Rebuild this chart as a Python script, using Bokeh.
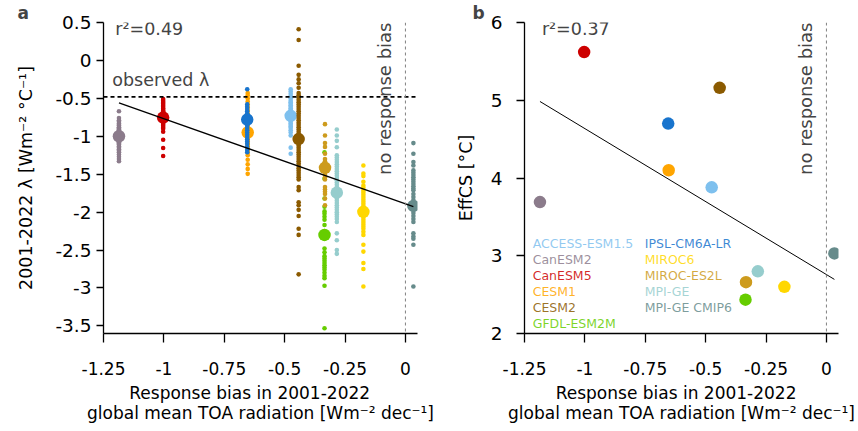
import numpy as np
from bokeh.plotting import figure
from bokeh.layouts import row
from bokeh.models import Span, Label, FixedTicker, CustomJSTickFormatter, Range1d, LinearAxis
from bokeh.embed import file_html
from bokeh.resources import INLINE

FONT = "DejaVu Sans"

# ---- model-level data ----
models = ["ACCESS-ESM1.5", "CanESM2", "CanESM5", "CESM1", "CESM2", "GFDL-ESM2M",
          "IPSL-CM6A-LR", "MIROC6", "MIROC-ES2L", "MPI-GE", "MPI-GE CMIP6"]
colors = ["#7EC0EE", "#8B7B8B", "#CD0000", "#FFA500", "#8B5A00", "#66CD00",
          "#1874CD", "#FFD700", "#CD9B1D", "#96CDCD", "#668B8B"]
bias = [-0.475, -1.186, -1.003, -0.653, -0.442, -0.335, -0.655, -0.174, -0.333, -0.284, 0.033]
lambda_mean = [-0.73, -1.00, -0.753, -0.95, -1.037, -2.30, -0.78, -1.996, -1.416, -1.743, -1.918]
effcs = [3.88, 3.69, 5.62, 4.10, 5.16, 2.435, 4.70, 2.60, 2.66, 2.80, 3.03]
observed_lambda = -0.48

# ---- ensemble members (lambda, W m-2 C-1) ----
m_access = [-0.38, -0.41, -0.44, -0.47, -0.50, -0.53, -0.55, -0.57, -0.59, -0.61, -0.63, -0.65,
            -0.67, -0.69, -0.71, -0.73, -0.75, -0.77, -0.79, -0.81, -0.83, -0.85, -0.87, -0.89,
            -0.92, -0.95, -0.99, -1.15, -1.23]
m_canesm2 = [-0.67, -0.76, -0.79, -0.81, -0.83, -0.85, -0.86, -0.88, -0.89, -0.90, -0.91, -0.92,
             -0.93, -0.94, -0.95, -0.96, -0.97, -0.98, -0.99, -1.00, -1.01, -1.02, -1.03, -1.04,
             -1.05, -1.06, -1.07, -1.08, -1.09, -1.10, -1.11, -1.13, -1.15, -1.17, -1.19, -1.21,
             -1.24, -1.27, -1.30, -1.33]
m_canesm5 = [-0.51, -0.53, -0.55, -0.57, -0.59, -0.61, -0.63, -0.64, -0.66, -0.67, -0.68, -0.70,
             -0.71, -0.72, -0.73, -0.74, -0.75, -0.76, -0.77, -0.78, -0.79, -0.80, -0.81, -0.82,
             -0.84, -0.86, -0.88, -0.90, -0.94, -1.045, -1.155, -1.26]
m_cesm1 = [-0.43, -0.46, -0.50, -0.54, -0.58, -0.62, -0.66, -0.70, -0.73, -0.76, -0.79, -0.82,
           -0.85, -0.88, -0.91, -0.93, -0.95, -0.97, -0.99, -1.01, -1.03, -1.05, -1.07, -1.09,
           -1.11, -1.13, -1.16, -1.19, -1.22, -1.25, -1.31, -1.37, -1.43, -1.495]
m_cesm2 = [0.41, 0.27, -0.07, -0.19, -0.25, -0.30, -0.36, -0.43, -0.46, -0.49, -0.52, -0.55,
           -0.58, -0.61, -0.64, -0.67, -0.70, -0.73, -0.76, -0.79, -0.82, -0.85, -0.88, -0.91,
           -0.94, -0.97, -1.00, -1.03, -1.06, -1.09, -1.12, -1.15, -1.18, -1.21, -1.24, -1.27,
           -1.30, -1.33, -1.36, -1.39, -1.42, -1.45, -1.48, -1.51, -1.54, -1.57, -1.67, -1.71,
           -1.87, -1.91, -1.97, -2.05, -2.22, -2.30, -2.82]
m_gfdl = [-1.21, -1.36, -1.56, -1.82, -1.93, -1.99, -2.02, -2.06, -2.10, -2.17, -2.25, -2.35,
          -2.48, -2.53, -2.58, -2.61, -2.64, -2.67, -2.70, -2.73, -2.76, -2.80, -2.84, -2.87,
          -2.97, -3.53]
m_ipsl = [-0.38, -0.58, -0.61, -0.64, -0.67, -0.70, -0.72, -0.74, -0.76, -0.78, -0.80, -0.82,
          -0.84, -0.86, -0.89, -0.92, -0.95, -0.98, -1.01, -1.04, -1.07, -1.10, -1.14, -1.18, -1.21]
m_miroc6 = [-1.385, -1.49, -1.525, -1.60, -1.65, -1.68, -1.71, -1.74, -1.77, -1.80, -1.83, -1.86,
            -1.89, -1.92, -1.95, -1.98, -2.01, -2.04, -2.07, -2.10, -2.13, -2.16, -2.19, -2.22,
            -2.26, -2.30, -2.43, -2.52, -2.67, -2.75, -2.98]
m_mirocES2L = [-0.84, -0.99, -1.09, -1.14, -1.23, -1.30, -1.33, -1.36, -1.39, -1.42, -1.45, -1.48,
               -1.51, -1.54, -1.57, -1.67, -1.70, -1.73, -1.76, -1.82, -1.91]
m_mpige = [-0.91, -0.99, -1.06, -1.145, -1.25, -1.28, -1.31, -1.34, -1.37, -1.40, -1.43, -1.46,
           -1.49, -1.52, -1.55, -1.58, -1.61, -1.64, -1.67, -1.70, -1.73, -1.76, -1.79, -1.82,
           -1.85, -1.88, -1.91, -1.94, -1.97, -2.00, -2.03, -2.06, -2.09, -2.13, -2.28, -2.37,
           -2.50, -2.55]
m_mpige6 = [-1.09, -1.23, -1.34, -1.385, -1.45, -1.48, -1.51, -1.54, -1.57, -1.60, -1.63, -1.66,
            -1.69, -1.71, -1.76, -1.80, -1.84, -1.88, -1.93, -1.97, -2.01, -2.05, -2.09, -2.13,
            -2.28, -2.32, -2.35, -2.43, -2.98]
members = [m_access, m_canesm2, m_canesm5, m_cesm1, m_cesm2, m_gfdl,
           m_ipsl, m_miroc6, m_mirocES2L, m_mpige, m_mpige6]

x_ticks = [-1.25, -1.0, -0.75, -0.5, -0.25, 0.0]
ya_ticks = [0.5, 0.0, -0.5, -1.0, -1.5, -2.0, -2.5, -3.0, -3.5]
yb_ticks = [2, 3, 4, 5, 6]

xlab_line1 = "Response bias in 2001-2022"
xlab_line2 = "global mean TOA radiation [Wm\u207b\u00b2 dec\u207b\u00b9]"
ylab_a = "2001-2022 \u03bb [Wm\u207b\u00b2 \u00b0C\u207b\u00b9]"
ylab_b = "EffCS [\u00b0C]"
NB = "\u00a0"


def style(p, yticks, ytick_out, ystand, ylab, ylab_stand, panel, title_off, pad1):
    for ax in (p.xaxis[0], p.yaxis[0]):
        ax.axis_line_color = "black"
        ax.axis_line_width = 1.3
        ax.major_tick_line_color = "black"
        ax.major_tick_line_width = 1.3
        ax.major_tick_in = 0
        ax.minor_tick_line_color = None
        ax.major_label_text_font = FONT
        ax.major_label_text_color = "black"
        ax.axis_label_text_font = FONT
        ax.axis_label_text_font_style = "normal"
        ax.axis_label_text_color = "black"
        ax.formatter = CustomJSTickFormatter(code="return String(tick);")
    p.xaxis[0].axis_label_text_font_size = "17px"
    p.yaxis[0].axis_label_text_font_size = "17.5px"
    p.xaxis[0].major_label_text_font_size = "17px"
    p.yaxis[0].major_label_text_font_size = "18.5px"
    p.xaxis[0].ticker = FixedTicker(ticks=x_ticks)
    p.yaxis[0].ticker = FixedTicker(ticks=yticks)
    p.xaxis[0].major_tick_out = 9
    p.xaxis[0].major_label_standoff = 19
    # trailing no-break spaces shift the centred first line slightly left, as in the reference
    p.xaxis[0].axis_label = xlab_line1 + NB * pad1
    p.xaxis[0].axis_label_standoff = 5
    p.yaxis[0].major_tick_out = ytick_out
    p.yaxis[0].major_label_standoff = ystand
    p.yaxis[0].axis_label = ylab
    p.yaxis[0].axis_label_standoff = ylab_stand
    # second line of the x label: an extra, tick-less axis below the first
    ax2 = LinearAxis(ticker=FixedTicker(ticks=[]), axis_label=xlab_line2,
                     axis_line_color=None, major_tick_line_color=None,
                     minor_tick_line_color=None, major_tick_out=0, major_tick_in=0,
                     major_label_standoff=0, axis_label_standoff=-3,
                     axis_label_text_font=FONT, axis_label_text_font_size="17px",
                     axis_label_text_font_style="normal", axis_label_text_color="black")
    p.add_layout(ax2, "below")
    p.xgrid.visible = False
    p.ygrid.visible = False
    p.outline_line_color = None
    p.title.text = panel
    p.title.text_font = FONT
    p.title.text_font_size = "17px"
    p.title.text_font_style = "bold"
    p.title.align = "left"
    p.title.offset = title_off
    p.title.standoff = 0


def lab(p, text, x, y, size="17.5px", **kw):
    p.add_layout(Label(x=x, y=y, text=text, text_font=FONT, text_font_size=size, **kw))


# ================= panel a =================
pa = figure(width=440, height=430, x_range=Range1d(-1.25, 0.05), y_range=Range1d(-3.6, 0.5),
            output_backend="svg", toolbar_location=None,
            min_border_left=103, min_border_right=23, min_border_top=20, min_border_bottom=97)
style(pa, ya_ticks, 7, 5, ylab_a, 16, "a", -86, 4)

pa.add_layout(Span(location=observed_lambda, dimension="width", line_color="black",
                   line_width=1.6, line_dash="4 3"))
pa.add_layout(Span(location=0, dimension="height", line_color="#808080",
                   line_width=1, line_dash="3 3"))

for i in range(len(models)):
    mem = members[i]
    pa.scatter([bias[i]] * len(mem), mem, size=4.6, color=colors[i], line_color=None)
    pa.scatter([bias[i]], [lambda_mean[i]], size=12.5, color=colors[i], line_color=None)

ka, ba = np.polyfit(bias, lambda_mean, 1)
xl = np.array([min(bias), max(bias)])
pa.line(xl, ka * xl + ba, line_color="black", line_width=1.3)

lab(pa, "r\u00b2=0.49", -1.201, 0.28)
lab(pa, "observed \u03bb", -1.214, -0.386)
lab(pa, "no response bias", 0, 0.5, size="18px", angle=np.pi / 2, text_align="right",
    x_offset=-10)

# ================= panel b =================
pb = figure(width=418, height=430, x_range=Range1d(-1.25, 0.05), y_range=Range1d(2, 6),
            output_backend="svg", toolbar_location=None,
            min_border_left=84, min_border_right=20, min_border_top=20, min_border_bottom=97)
style(pb, yb_ticks, 8, 14, ylab_b, 12, "b", -52, 2)
pb.add_layout(Span(location=0, dimension="height", line_color="#808080",
                   line_width=1, line_dash="3 3"))

kb, bb = np.polyfit(bias, effcs, 1)
pb.line(xl, kb * xl + bb, line_color="black", line_width=1.0)
pb.scatter(bias, effcs, size=12.5, color=colors, line_color=None)

lab(pb, "r\u00b2=0.37", -1.178, 5.79)
lab(pb, "no response bias", 0, 6, size="18px", angle=np.pi / 2, text_align="right",
    x_offset=-10)

col_x = [-1.216, -0.752]
for i, name in enumerate(models):
    c = 0 if i < 6 else 1
    r = i if i < 6 else i - 6
    lab(pb, name, col_x[c], 3.152 - r * 0.2045, size="12.5px", text_color=colors[i],
        text_alpha=0.85, text_baseline="middle")

layout = row(pa, pb)
open("out.html", "w").write(file_html(layout, INLINE))
